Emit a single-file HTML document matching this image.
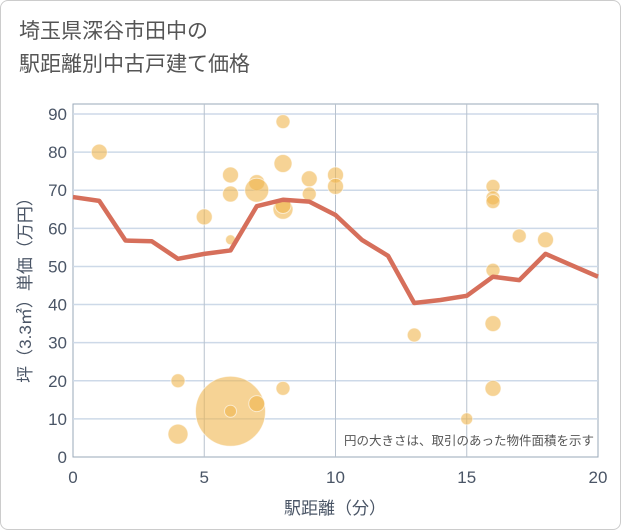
<!DOCTYPE html>
<html><head><meta charset="utf-8"><style>
body{margin:0;background:#fff;font-family:"Liberation Sans","Noto Sans CJK JP",sans-serif;}
#wrap{position:relative;width:619px;height:528px;border:1px solid #ccc;border-radius:8px;overflow:hidden;background:#fff}
#title{position:absolute;left:18px;top:14px;font-size:21px;line-height:33px;color:#555}
</style></head><body>
<div id="wrap">
<div id="title">埼玉県深谷市田中の<br>駅距離別中古戸建て価格</div>
<svg id="chart" width="621" height="530" style="position:absolute;left:0;top:0"></svg>
</div>
<script>
const xTicks=[0,5,10,15,20];
const yTicks=[0,10,20,30,40,50,60,70,80,90];
const bubbleX=[1,4,4,5,6,6,6,6,6,7,7,7,8,8,8,8,8,9,9,10,10,13,15,16,16,16,16,16,16,17,18];
const bubbleY=[80,20,6,63,74,69,57,12,12,72,70,14,88,77,65,66,18,73,69,74,71,32,10,71,68,67,49,35,18,58,57];
const bubbleR=[8,7,10,8,8,8,5,35,6,8,12,8,7,9,10,8,7,8,7,8,8,7,6,7,7,7,7,8,8,7,8];
const lineX=[0,1,2,3,4,5,6,7,8,9,10,11,12,13,14,15,16,17,18,19,20];
const lineY=[68.2,67.2,56.8,56.6,52,53.3,54.2,65.8,67.5,67,63.5,57,52.8,40.4,41.2,42.3,47.3,46.4,53.3,50.3,47.3];
const L=72,R=597,T=103,B=456;
const sx=v=>L+v/20*(R-L);
const sy=v=>B-v/90*(B-113);
const svg=document.getElementById('chart');
const NS='http://www.w3.org/2000/svg';
function mk(t,a){const e=document.createElementNS(NS,t);for(const k in a)e.setAttribute(k,a[k]);svg.appendChild(e);return e;}
let e=mk('rect',{x:L,y:T,width:R-L,height:B-T,fill:'#fff',stroke:'#9aa8b8'});


yTicks.forEach(v=>{
 if(v>0){const g=mk('line',{x1:L,x2:R,y1:sy(v),y2:sy(v),stroke:'#cdd9e8','stroke-width':1.5});
 
 }
 const t=mk('text',{x:L-6,y:sy(v)+6,'text-anchor':'end','font-size':17,fill:'#4a5566'});t.textContent=v;
 
 
});
xTicks.forEach(v=>{
 if(v>0&&v<20){const g=mk('line',{x1:sx(v),x2:sx(v),y1:T,y2:B,stroke:'#b8c2ce','stroke-width':1});
 
 }
 const t=mk('text',{x:sx(v),y:482,'text-anchor':'middle','font-size':17,fill:'#4a5566'});t.textContent=v;
 
 
});
bubbleX.forEach((x,i)=>{
 const c=mk('circle',{cx:sx(x),cy:sy(bubbleY[i]),r:bubbleR[i],fill:'#f0b54f','fill-opacity':0.6,stroke:'#fff','stroke-opacity':0.6});
 
 
});
const p=mk('polyline',{points:lineX.map((x,i)=>sx(x)+','+sy(lineY[i])).join(' '),fill:'none',stroke:'#d66f5b','stroke-width':4.5,'stroke-linejoin':'round'});


let t=mk('text',{x:593,y:444,'text-anchor':'end','font-size':12.5,fill:'#555'});t.textContent='円の大きさは、取引のあった物件面積を示す';


t=mk('text',{x:334,y:513,'text-anchor':'middle','font-size':17,fill:'#4a5566'});t.textContent='駅距離（分）';


t=mk('text',{x:0,y:0,'text-anchor':'middle','font-size':17,fill:'#4a5566',transform:'translate(30,285) rotate(-90)'});t.textContent='坪（3.3㎡）単価（万円）';


</script>
</body></html>
